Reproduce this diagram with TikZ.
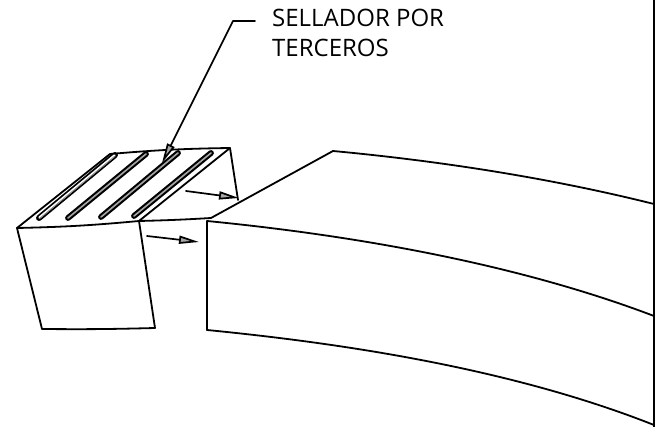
\documentclass[tikz,border=0pt]{standalone}
\usepackage{fontspec}
\setmainfont{Open Sans}
\usetikzlibrary{arrows.meta}
\tikzset{
  edgeline/.style={line width=1.8pt, line join=round, line cap=round},
  moveline/.style={line width=1.7pt, -{Triangle[length=20pt,width=8pt,fill=gray!70]}},
  leaderline/.style={line width=1.7pt, line join=round, -{Triangle[length=20pt,width=8pt,fill=gray!70]}},
  labeltext/.style={font=\fontsize{24}{29.5}\selectfont, align=left, anchor=north west, inner sep=0pt}
}
\begin{document}
\begin{tikzpicture}[x=1pt, y=-1pt, line join=round, line cap=round]
 \useasboundingbox (0,0) rectangle (657,427);
 % small block
 \coordinate (sa) at (17,228); \coordinate (sb) at (139,221);
 \coordinate (sc) at (155,328); \coordinate (sd) at (42,329);
 \coordinate (se) at (110,154); \coordinate (sf) at (230,148);
 \coordinate (sg) at (238,200); \coordinate (sh) at (211,218);
 \draw[edgeline] (sa) to[bend right=2] (sb) -- (sc) to[bend left=1] (sd) -- cycle;
 \draw[edgeline] (sa) -- (se) to[bend left=2] (sf) -- (sg);
 \draw[edgeline] (sb) -- (sf) (sb) to[bend right=1] (sh);
 % sealant strips
 \foreach \xa/\ya/\xb/\yb in {68/218/146/154,101/217/178/153,134/216/211/153} {
  \draw[line width=5.8pt] (\xa,\ya)--(\xb,\yb);
  \draw[line width=1.6pt, gray!70] (\xa,\ya)--(\xb,\yb);
 }
 \draw[line width=6pt] (39,218)--(115,155);
 \draw[line width=2.4pt, white] (39.5,217.5)--(114.5,155.5);
 \draw[line width=0.8pt, gray] (39.5,218.5)--(114.5,156.5);
 % large block
 \coordinate (ba) at (207,221); \coordinate (bb) at (207,330);
 \coordinate (bc) at (333,151); \coordinate (bd) at (654,204);
 \coordinate (be) at (654,316); \coordinate (bf) at (654,425);
 \draw[edgeline] (bb) -- (ba) .. controls (360,236) and (520,265) .. (be);
 \draw[edgeline] (bb) .. controls (360,345) and (520,372) .. (bf);
 \draw[edgeline] (sh) -- (bc) .. controls (440,161) and (550,178) .. (bd);
 \draw[line width=2.4pt] (654,0)--(654,427);
 % arrows
 \coordinate (ma) at (186,191); \coordinate (mb) at (239,198);
 \coordinate (mc) at (147,236); \coordinate (md) at (199,242);
 \draw[moveline] (ma) -- (mb);
 \draw[moveline] (mc) -- (md);
 % label
 \node[labeltext] (sealer) at (272,9) {SELLADOR POR\\TERCEROS};
 \coordinate (lead) at (255,21); \coordinate (knee) at (233,21); \coordinate (tip) at (162,163);
 \draw[leaderline] (lead) -- (knee) -- (tip);
\end{tikzpicture}
\end{document}
